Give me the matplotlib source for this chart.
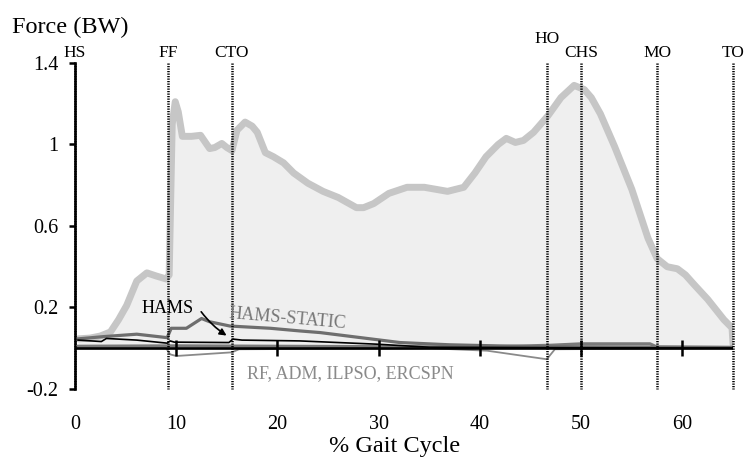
import matplotlib
matplotlib.use("Agg")
import matplotlib.pyplot as plt
import numpy as np

plt.rcParams["font.family"] = "serif"
plt.rcParams["font.serif"] = ["Liberation Serif", "DejaVu Serif"]

# total joint force over stance (% gait cycle, BW)
gait_pct = [0.3, 1.5, 2.5, 3.5, 4.3, 5.1, 6.1, 7.1, 8.0, 9.0, 9.3, 9.6, 9.9,
            10.2, 10.6, 11.5, 12.4, 13.3, 13.8, 14.5, 15.0, 15.5, 16.0, 16.8,
            17.5, 18.0, 18.8, 19.6, 20.6, 21.6, 23.0, 24.5, 26.0, 27.8, 28.5,
            29.5, 31.0, 32.8, 34.5, 36.8, 38.4, 39.5, 40.6, 41.8, 42.6, 43.5,
            44.3, 45.3, 46.7, 48.0, 49.3, 50.3, 51.0, 51.9, 53.3, 55.0, 56.6,
            57.5, 58.5, 59.5, 60.3, 61.2, 62.5, 64.1, 64.9, 65.0]
total_force = [0.046, 0.05, 0.06, 0.08, 0.14, 0.21, 0.33, 0.37, 0.355, 0.34,
               0.36, 1.1, 1.21, 1.16, 1.04, 1.04, 1.045, 0.98, 0.985, 1.005,
               0.985, 0.97, 1.07, 1.11, 1.09, 1.06, 0.96, 0.94, 0.91, 0.86,
               0.81, 0.77, 0.74, 0.69, 0.69, 0.71, 0.76, 0.79, 0.79, 0.77,
               0.79, 0.86, 0.94, 1.0, 1.03, 1.01, 1.02, 1.06, 1.14, 1.23,
               1.29, 1.27, 1.23, 1.15, 0.99, 0.78, 0.54, 0.44, 0.40, 0.39,
               0.36, 0.31, 0.24, 0.14, 0.10, 0.02]

# hamstrings, static optimisation
hs_pct = [0.3, 2.8, 6.1, 9.1, 9.5, 11.0, 12.0, 12.5, 13.3, 15.3, 19.3, 22.2,
          24.2, 32.1, 37.0, 45.0, 65.0]
hs_force = [0.046, 0.057, 0.069, 0.052, 0.098, 0.098, 0.13, 0.146, 0.13,
            0.109, 0.098, 0.085, 0.077, 0.028, 0.017, 0.008, 0.004]

# hamstrings
ham_pct = [0.3, 2.6, 3.1, 6.1, 9.1, 9.4, 9.8, 15.2, 15.6, 16.5, 22.2, 29.8,
           35.0, 65.0]
ham_force = [0.04, 0.033, 0.048, 0.04, 0.025, 0.036, 0.03, 0.028, 0.045,
             0.04, 0.036, 0.02, 0.005, 0.0]

# RF, ADM, ILPSO, ERCSPN
oth1_pct = [0.3, 9.0, 9.4, 10.0, 15.5, 16.2, 35.0]
oth1_force = [0.0, 0.0, -0.03, -0.038, -0.02, -0.005, 0.0]
oth2_pct = [30.0, 35.0, 40.7, 46.6, 47.4, 65.0]
oth2_force = [0.0, 0.0, -0.012, -0.054, -0.005, 0.0]
oth3_pct = [0.3, 10.0, 20.0, 30.0, 40.0, 47.0, 50.0, 56.8, 57.5, 65.0]
oth3_force = [0.01, 0.012, 0.01, 0.008, 0.006, 0.015, 0.022, 0.022, 0.006, 0.004]

# gait events
events = ["HS", "FF", "CTO", "HO", "CHS", "MO", "TO"]
event_pct = [0.0, 9.2, 15.5, 46.6, 50.0, 57.5, 65.0]

fig = plt.figure(figsize=(7.48, 4.68), dpi=100)
ax = fig.add_axes([0.1003, 0.1688, 0.8797, 0.6966])

ax.fill_between(gait_pct, 0, total_force, color="#efefef", lw=0, zorder=1)
ax.plot(gait_pct, total_force, color="#c6c6c6", lw=5, solid_capstyle="round",
        solid_joinstyle="round", zorder=2)
ax.plot(oth3_pct, oth3_force, color="#7a7a7a", lw=2.2, zorder=3)
ax.plot(oth1_pct, oth1_force, color="#8a8a8a", lw=1.3, zorder=3)
ax.plot(oth2_pct, oth2_force, color="#8a8a8a", lw=1.3, zorder=3)
ax.plot(hs_pct, hs_force, color="#6e6e6e", lw=2.3, zorder=4)
ax.plot(ham_pct, ham_force, color="black", lw=1.2, zorder=5)

for name, xe in zip(events, event_pct):
    ax.plot([xe, xe], [1.4, -0.2], color="black", lw=1.8,
            linestyle=(0, (0.5, 0.5)), zorder=6, clip_on=False)
    ytxt = 1.516 if name == "HO" else 1.449
    ax.text(xe, ytxt, name, ha="center", va="center", fontsize=12.5,
            clip_on=False)

# zero line with its tick marks
ax.plot([0, 65], [0, 0], color="black", lw=1.9, zorder=7, solid_capstyle="butt")
xt = np.arange(10, 70, 10)
ax.plot(xt, np.zeros_like(xt), linestyle="none", marker="|", ms=11, mew=1.8,
        color="black", zorder=7)

ax.text(9.1, 0.196, "HAMS", ha="center", va="center", fontsize=13, zorder=8)
ax.annotate("", xy=(15.2, 0.055), xytext=(12.3, 0.19),
            arrowprops=dict(arrowstyle="-|>", color="black", lw=1.2,
                            mutation_scale=10,
                            connectionstyle="arc3,rad=0.1"), zorder=8)
ax.text(21.0, 0.143, "HAMS-STATIC", ha="center", va="center", fontsize=13,
        color="#777777", rotation=-5, zorder=8)
ax.text(27.2, -0.124, "RF, ADM, ILPSO, ERCSPN", ha="center", va="center",
        fontsize=13, color="#8a8a8a", zorder=8)

ax.set_xlim(0, 65)
ax.set_ylim(-0.2, 1.4)
ax.set_yticks([-0.2, 0.2, 0.6, 1.0, 1.4])
ax.set_yticklabels(["-0.2", "0.2", "0.6", "1", "1.4"])
ax.set_xticks(np.arange(0, 70, 10))
ax.tick_params(axis="x", length=0, pad=19, labelsize=14.5)
ax.tick_params(axis="y", direction="out", length=4, width=1.8, pad=8,
               labelsize=14.5)
for side in ["top", "right", "bottom"]:
    ax.spines[side].set_visible(False)
ax.spines["left"].set_linewidth(1.9)
ax.patch.set_alpha(0)

fig.text(0.0156, 0.942, "Force (BW)", ha="left", va="center", fontsize=17.5)
fig.text(0.528, 0.045, "% Gait Cycle", ha="center", va="center", fontsize=17.5)

fig.savefig("out.png", dpi=100)
